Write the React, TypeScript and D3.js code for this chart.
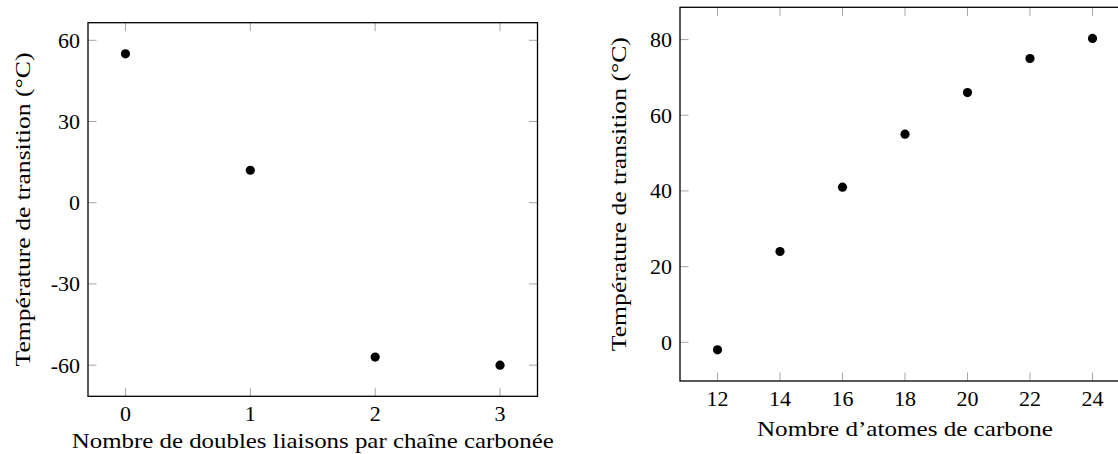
import React from 'react';
import * as d3 from 'd3';

// left panel: number of double bonds vs transition temperature
const doubleBonds = [0, 1, 2, 3];
const tempByBonds = [55, 12, -57, -60];
const bondTicks = [0, 1, 2, 3];
const bondTempTicks = [60, 30, 0, -30, -60];

// right panel: number of carbon atoms vs transition temperature
const carbonAtoms = [12, 14, 16, 18, 20, 22, 24];
const tempByCarbon = [-2, 24, 41, 55, 66, 75, 80.3];
const carbonTicks = [12, 14, 16, 18, 20, 22, 24];
const carbonTempTicks = [0, 20, 40, 60, 80];

const FONT = "'Liberation Serif', 'DejaVu Serif', serif";
const FS = 22;
const TICK_LEN = 8.5;

interface PanelProps {
  left: number;
  top: number;
  width: number;
  height: number;
  xs: number[];
  ys: number[];
  xTicks: number[];
  yTicks: number[];
  xLabel: string;
  yLabel: string;
  xLabelDy: number;
  yLabelDx: number;
  xLabelLen: number;
  yLabelLen: number;
}

// pgfplots-like enlarge limits: 10% of the data range on each side
const enlarged = (vals: number[]): [number, number] => {
  const [lo, hi] = d3.extent(vals) as [number, number];
  const pad = (hi - lo) * 0.1;
  return [lo - pad, hi + pad];
};

const Panel: React.FC<PanelProps> = ({ left, top, width, height, xs, ys, xTicks, yTicks, xLabel, yLabel, xLabelDy, yLabelDx, xLabelLen, yLabelLen }) => {
  const x = d3.scaleLinear().domain(enlarged(xs)).range([left, left + width]);
  const y = d3.scaleLinear().domain(enlarged(ys)).range([top + height, top]);
  const bottom = top + height;
  const right = left + width;
  const fmt = (v: number) => String(v);

  return (
    <g>
      {/* ticks, drawn inward on all four sides */}
      {xTicks.map(t => (
        <g key={'xt' + t} stroke="#a6a6a6" strokeWidth={1}>
          <line x1={x(t)} x2={x(t)} y1={bottom} y2={bottom - TICK_LEN} />
          <line x1={x(t)} x2={x(t)} y1={top} y2={top + TICK_LEN} />
        </g>
      ))}
      {yTicks.map(t => (
        <g key={'yt' + t} stroke="#a6a6a6" strokeWidth={1}>
          <line x1={left} x2={left + TICK_LEN} y1={y(t)} y2={y(t)} />
          <line x1={right} x2={right - TICK_LEN} y1={y(t)} y2={y(t)} />
        </g>
      ))}
      <rect x={left} y={top} width={width} height={height} fill="none" stroke="#000" strokeWidth={1.3} />

      {xTicks.map(t => (
        <text key={'xl' + t} x={x(t)} y={bottom + 25} textAnchor="middle" fontFamily={FONT} fontSize={FS} fill="#000">
          {fmt(t)}
        </text>
      ))}
      {yTicks.map(t => (
        <text key={'yl' + t} x={left - 8} y={y(t)} dy="0.34em" textAnchor="end" fontFamily={FONT} fontSize={FS} fill="#000">
          {fmt(t)}
        </text>
      ))}

      {xs.map((v, i) => (
        <circle key={'p' + i} cx={x(v)} cy={y(ys[i])} r={4.6} fill="#000" />
      ))}

      <text
        x={(left + right) / 2}
        y={bottom + xLabelDy}
        textAnchor="middle"
        fontFamily={FONT}
        fontSize={FS}
        fill="#000"
        textLength={xLabelLen}
        lengthAdjust="spacingAndGlyphs"
      >
        {xLabel}
      </text>
      <text
        transform={`translate(${left - yLabelDx},${(top + bottom) / 2}) rotate(-90)`}
        textAnchor="middle"
        dy="0.35em"
        fontFamily={FONT}
        fontSize={FS}
        fill="#000"
        textLength={yLabelLen}
        lengthAdjust="spacingAndGlyphs"
      >
        {yLabel}
      </text>
    </g>
  );
};

export default function App() {
  return (
    <svg width={1118} height={454} style={{ position: 'absolute', left: 0, top: 0, background: '#fff' }}>
      <Panel
        left={88}
        top={22.7}
        width={449.5}
        height={373.6}
        xs={doubleBonds}
        ys={tempByBonds}
        xTicks={bondTicks}
        yTicks={bondTempTicks}
        xLabel="Nombre de doubles liaisons par chaîne carbonée"
        yLabel="Température de transition (°C)"
        xLabelDy={52}
        yLabelDx={66}
        xLabelLen={482}
        yLabelLen={314}
      />
      <Panel
        left={680}
        top={7.3}
        width={450}
        height={373.7}
        xs={carbonAtoms}
        ys={tempByCarbon}
        xTicks={carbonTicks}
        yTicks={carbonTempTicks}
        xLabel="Nombre d’atomes de carbone"
        yLabel="Température de transition (°C)"
        xLabelDy={55}
        yLabelDx={62}
        xLabelLen={296}
        yLabelLen={314}
      />
    </svg>
  );
}
